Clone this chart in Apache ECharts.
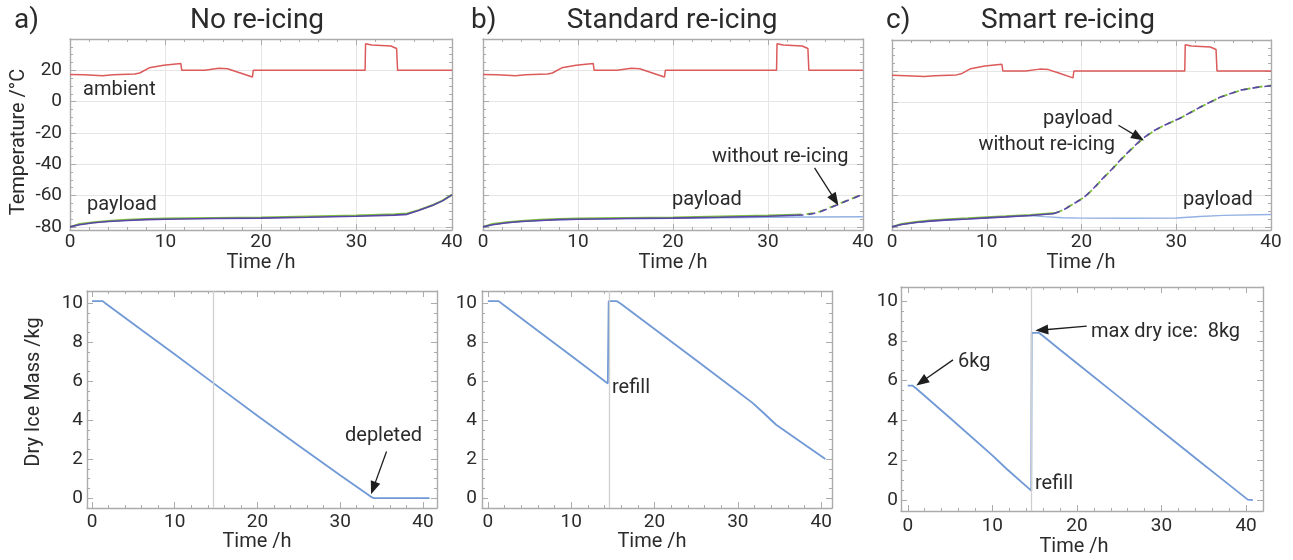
<!DOCTYPE html>
<html><head><meta charset="utf-8">
<script src="https://cdn.jsdelivr.net/npm/echarts@6/dist/echarts.min.js"></script>
<style>html,body{margin:0;padding:0;background:#fff}#c{width:1293px;height:560px}</style>
</head><body><div id="c"></div><script>
// ---------------- data ----------------
const timeTicks = [0, 10, 20, 30, 40];
const timeMinorTicks = [2,4,6,8,12,14,16,18,22,24,26,28,32,34,36,38];
const tempTicks = [-80, -60, -40, -20, 0, 20];
const tempMinorTicks = [-75,-70,-65,-55,-50,-45,-35,-30,-25,-15,-10,-5,5,10,15,25,30,35];
const massTicks = [0, 2, 4, 6, 8, 10];
const massMinorTicks = [0.5,1,1.5,2.5,3,3.5,4.5,5,5.5,6.5,7,7.5,8.5,9,9.5];
const refillTime = [14.6];

const ambientTemp = [[0,17.4],[1.5,17.1],[3.4,16.6],[4.5,17.1],[6.8,17.6],[7.3,18.3],[8.3,21.6],[9.8,23.3],[11.6,24.4],[11.7,20.1],[14.1,20.1],[14.3,21],[15.6,21.3],[16.5,21],[17.6,18.8],[19.1,15.7],[19.2,20.1],[30.9,20.1],[30.95,37],[31.6,36.1],[33.6,35.5],[34.2,33.9],[34.3,20.1],[40,20.1]];

// a) no re-icing
const payloadPurpleA = [[0,-80],[1,-78.6],[2.5,-77.4],[4,-76.6],[6,-75.9],[8,-75.4],[10,-75.1],[15,-74.7],[20,-74.4],[25,-73.9],[30,-73.2],[34,-72.5],[35.3,-72],[36.5,-69.6],[38,-66.2],[39,-63.4],[40,-59.6]];
const payloadGreenA  = [[0,-80],[1,-78.2],[2.5,-77],[4,-76.2],[6,-75.5],[8,-75],[10,-74.7],[15,-74.3],[20,-74],[25,-73.4],[30,-72.7],[34,-72],[35.3,-71.5],[36.5,-69.3],[38,-66],[39,-63.2],[40,-59.4]];

// b) standard re-icing
const payloadPurpleB = [[0,-80],[1,-78.6],[2.5,-77.4],[4,-76.6],[6,-75.9],[8,-75.4],[10,-75.1],[15,-74.7],[20,-74.4],[25,-73.9],[30,-73.2],[33,-72.6]];
const payloadGreenB  = [[0,-80],[1,-78.2],[2.5,-77],[4,-76.2],[6,-75.5],[8,-75],[10,-74.7],[15,-74.3],[20,-74],[25,-73.4],[30,-72.7],[32.8,-72.2]];
const noReicePurpleB = [[33,-72.6],[34,-72.3],[34.7,-71.6],[35.5,-70.4],[37.2,-66.2],[38.5,-62.9],[40,-59.2]];
const noReiceGreenB  = [[32.8,-72.2],[34,-71.9],[34.7,-71.3],[35.5,-70.1],[37.2,-66],[38.5,-62.7],[40,-59]];
const payloadReicedB = [[0,-80],[1,-78.6],[2.5,-77.4],[4,-76.6],[6,-75.9],[8,-75.4],[10,-75.1],[15,-74.7],[20,-74.5],[25,-74.2],[30,-73.9],[35,-73.7],[40,-73.5]];

// c) smart re-icing
const payloadPurpleC = [[0,-80],[1,-78.5],[2.5,-77.2],[4,-76.3],[6,-75.5],[8,-74.9],[10,-74.2],[12,-73.6],[14.6,-72.7],[17,-71.6]];
const payloadGreenC  = [[0,-80],[1,-78.1],[2.5,-76.8],[4,-75.9],[6,-75.1],[8,-74.5],[10,-73.8],[12,-73.2],[14.6,-72.3],[17.3,-71.1]];
const noReicePurpleC = [[17,-71.6],[18,-69.5],[19.2,-65],[20.2,-61.5],[21.3,-55],[22.3,-48.5],[23.2,-43],[24.1,-37],[25,-31.5],[26.2,-24.5],[27.3,-19.5],[28.3,-16],[30.4,-10.2],[32.5,-3.2],[34.6,3.2],[36.8,7.8],[38.5,9.6],[40,10.6]];
const noReiceGreenC  = [[17.3,-71.1],[18.2,-68.7],[19.4,-64.2],[20.4,-60.6],[21.5,-54],[22.5,-47.4],[23.4,-42],[24.3,-36],[25.2,-30.6],[26.4,-23.8],[27.5,-19],[28.5,-15.5],[30.6,-9.6],[32.7,-2.6],[34.8,3.7],[37,8.1],[38.6,9.8],[40,10.8]];
const payloadReicedC = [[0,-80],[1,-78.5],[2.5,-77.2],[4,-76.3],[6,-75.5],[8,-74.9],[10,-74.2],[12,-73.6],[14.6,-72.7],[16,-73.4],[18,-74.1],[20,-74.4],[25,-74.5],[30,-74.3],[32.5,-73.3],[35,-72.6],[40,-72]];

// dry ice mass
const massA = [[0,10.1],[1.3,10.1],[1.7,9.97],[6,8.62],[10,7.38],[14.6,5.92],[20,4.22],[25,2.68],[30,1.17],[33.6,0.1],[34,0],[40.8,0]];
const massB = [[0,10.1],[1.3,10.1],[1.7,9.97],[6,8.58],[10,7.3],[14.4,5.88],[14.5,10.1],[15.5,10.1],[16,9.95],[20,8.67],[25,7.07],[30,5.45],[31.8,4.87],[33,4.4],[34.6,3.76],[37,3.04],[40.5,2.0]];
const massC = [[0,5.75],[0.55,5.75],[1,5.6],[5,4.12],[10,2.24],[11.7,1.56],[14.6,0.47],[14.65,8.4],[15.5,8.4],[16,8.24],[18,7.55],[20,6.87],[25,5.17],[30,3.47],[35,1.77],[37,1.1],[40.2,0.02],[40.8,0]];

// annotation arrows (data coordinates: from, to)
const arrowWithoutB = [[34.9,-42.3],[37.05,-62.8]];
const arrowPayloadC = [[23.9,-14.7],[26.0,-22.4]];
const arrowDepleted = [[35.6,2.39],[34.0,0.51]];
const arrow6kg = [[5.35,7.04],[1.64,5.94]];
const arrowMax = [[21.16,8.74],[15.84,8.54]];

// ---------------- styling / layout ----------------
const FONT = 'Roboto, "Noto Sans", sans-serif';
const FRAME = '#ababab';
const GRIDC = '#e6e6e6';
const TXT = '#2b2b2b';
const RED = '#dc5a5a', PURPLE = '#5a45a8', GREEN = '#7dbf3c', LBLUE = '#93b1e2', MBLUE = '#7099d6';

const layout = [
  {left:70,  top:39,  width:382, height:191, x:[0,40],      y:[-82,40],       kind:'temp', yLabels:true,  yMargin:8, xMargin:3},
  {left:483, top:39,  width:380, height:191, x:[0,40],      y:[-82,40],       kind:'temp', yLabels:false, yMargin:8, xMargin:3},
  {left:892, top:40,  width:379, height:190, x:[0,40],      y:[-82,40],       kind:'temp', yLabels:false, yMargin:8, xMargin:3},
  {left:87,  top:291, width:350, height:217, x:[-0.6,41.7], y:[-0.51,10.62],  kind:'mass', yLabels:true,  yMargin:4, xMargin:5},
  {left:482, top:291, width:350, height:217, x:[-0.7,41.3], y:[-0.51,10.62],  kind:'mass', yLabels:true,  yMargin:5, xMargin:5},
  {left:901, top:287, width:362, height:224, x:[-0.8,42],   y:[-0.55,10.7],   kind:'mass', yLabels:true,  yMargin:3, xMargin:6},
];

const grids = [], xAxes = [], yAxes = [];
layout.forEach((L, gi) => {
  grids.push({left:L.left, top:L.top, width:L.width, height:L.height, containLabel:false});
  const isT = L.kind === 'temp';
  const yMaj = isT ? tempTicks : massTicks;
  const yMin = isT ? tempMinorTicks : massMinorTicks;
  const lineOn = {show:true, onZero:false, lineStyle:{color:FRAME, width:1.4}};
  const lineOff = {show:false, onZero:false};
  const tick = (vals, len) => ({show:true, inside:true, length:len, customValues:vals, lineStyle:{color:FRAME, width:1}});
  const mk = (dim, pos, range, vals, len, line, label, split) => {
    const o = {gridIndex:gi, type:'value', position:pos, min:range[0], max:range[1],
      axisLine: line ? lineOn : lineOff,
      axisTick: tick(vals, len),
      axisLabel: label ? label : {show:false},
      splitLine: split ? {show:true, lineStyle:{color:GRIDC, width:1}} : {show:false},
      animation:false, silent:true};
    (dim === 'x' ? xAxes : yAxes).push(o);
  };
  // x axes
  mk('x','bottom',L.x,timeTicks,6,true,{show:true, customValues:timeTicks, color:TXT, fontSize:19, fontFamily:FONT, margin:L.xMargin}, isT);
  mk('x','bottom',L.x,timeMinorTicks,3,false,null,false);
  mk('x','top',L.x,timeTicks,6,true,null,false);
  mk('x','top',L.x,timeMinorTicks,3,false,null,false);
  // y axes
  mk('y','left',L.y,yMaj,6,true,L.yLabels ? {show:true, customValues:yMaj, color:TXT, fontSize:19, fontFamily:FONT, margin:L.yMargin} : null, isT);
  mk('y','left',L.y,yMin,3,false,null,false);
  mk('y','right',L.y,yMaj,6,true,null,false);
  mk('y','right',L.y,yMin,3,false,null,false);
});

function ln(gi, data, color, width, dashed, z, extra) {
  return Object.assign({
    type:'line', xAxisIndex:gi*4, yAxisIndex:gi*4, data:data, showSymbol:false, symbol:'none',
    lineStyle:{color:color, width:width, type: dashed ? [7,5] : 'solid'}, z:z, silent:true, animation:false
  }, extra || {});
}
function arrowML(arrs) {
  return {silent:true, animation:false, symbol:['none','triangle'], symbolSize:[10,13],
    label:{show:false}, lineStyle:{color:'#1e1e1e', width:1.3, type:'solid'},
    itemStyle:{color:'#1e1e1e'},
    data: arrs.map(a => [{coord:a[0]},{coord:a[1]}])};
}
function refillML() {
  return {silent:true, animation:false, symbol:'none', label:{show:false},
    lineStyle:{color:'#cfcfcf', width:1.3, type:'solid'},
    data: refillTime.map(t => ({xAxis:t}))};
}

const series = [
  // a
  ln(0, ambientTemp, RED, 1.5, false, 3),
  ln(0, payloadGreenA, GREEN, 2, false, 3),
  ln(0, payloadPurpleA, PURPLE, 1.6, false, 4),
  // b
  ln(1, ambientTemp, RED, 1.5, false, 3),
  ln(1, payloadReicedB, LBLUE, 1.4, false, 2),
  ln(1, payloadGreenB, GREEN, 2, false, 3),
  ln(1, payloadPurpleB, PURPLE, 1.6, false, 4),
  ln(1, noReiceGreenB, GREEN, 1.8, true, 3),
  ln(1, noReicePurpleB, PURPLE, 1.6, true, 4, {markLine: arrowML([arrowWithoutB])}),
  // c
  ln(2, ambientTemp, RED, 1.5, false, 3),
  ln(2, payloadReicedC, LBLUE, 1.4, false, 2),
  ln(2, payloadGreenC, GREEN, 2, false, 3),
  ln(2, payloadPurpleC, PURPLE, 1.6, false, 4),
  ln(2, noReiceGreenC, GREEN, 1.8, true, 3),
  ln(2, noReicePurpleC, PURPLE, 1.6, true, 4, {markLine: arrowML([arrowPayloadC])}),
  // bottom
  ln(3, massA, MBLUE, 1.8, false, 3, {markLine: refillML()}),
  ln(3, [], MBLUE, 1, false, 5, {markLine: arrowML([arrowDepleted])}),
  ln(4, massB, MBLUE, 1.8, false, 3, {markLine: refillML()}),
  ln(5, massC, MBLUE, 1.8, false, 3, {markLine: refillML()}),
  ln(5, [], MBLUE, 1, false, 5, {markLine: arrowML([arrow6kg, arrowMax])}),
];

function txt(text, x, y, size, align, extra) {
  return Object.assign({type:'text', x:x, y:y, z:100, silent:true,
    style:{text:text, font: size + 'px ' + FONT, fill:TXT, textAlign:align || 'left', textVerticalAlign:'middle'}}, extra || {});
}
const graphics = [
  txt('a)', 14, 21, 28), txt('No re-icing', 257, 21, 28, 'center'),
  txt('b)', 471, 21, 28), txt('Standard re-icing', 672, 21, 28, 'center'),
  txt('c)', 886, 21, 28), txt('Smart re-icing', 1068, 21, 28, 'center'),
  txt('Temperature /°C', 19, 142, 20, 'center', {rotation: Math.PI/2}),
  txt('Dry Ice Mass /kg', 34, 392, 20, 'center', {rotation: Math.PI/2}),
  txt('Time /h', 261, 263, 20, 'center'), txt('Time /h', 673, 263, 20, 'center'), txt('Time /h', 1081, 263, 20, 'center'),
  txt('Time /h', 257, 542, 20, 'center'), txt('Time /h', 652, 542, 20, 'center'), txt('Time /h', 1074, 547, 20, 'center'),
  txt('ambient', 83, 90, 20), txt('payload', 87, 205, 20),
  txt('without re-icing', 712, 157, 20), txt('payload', 672, 200, 20),
  txt('payload', 1043, 119, 20), txt('without re-icing', 1115, 145, 20, 'right'), txt('payload', 1183, 200, 20),
  txt('depleted', 345, 436, 20), txt('refill', 612, 388, 20),
  txt('6kg', 958, 362, 20), txt('max dry ice:  8kg', 1091, 332, 20), txt('refill', 1035, 484, 20),
];

const chart = echarts.init(document.getElementById('c'), null, {renderer:'canvas'});
chart.setOption({
  animation:false, backgroundColor:'#fff',
  grid: grids, xAxis: xAxes, yAxis: yAxes, series: series, graphic: graphics
});
</script></body></html>
